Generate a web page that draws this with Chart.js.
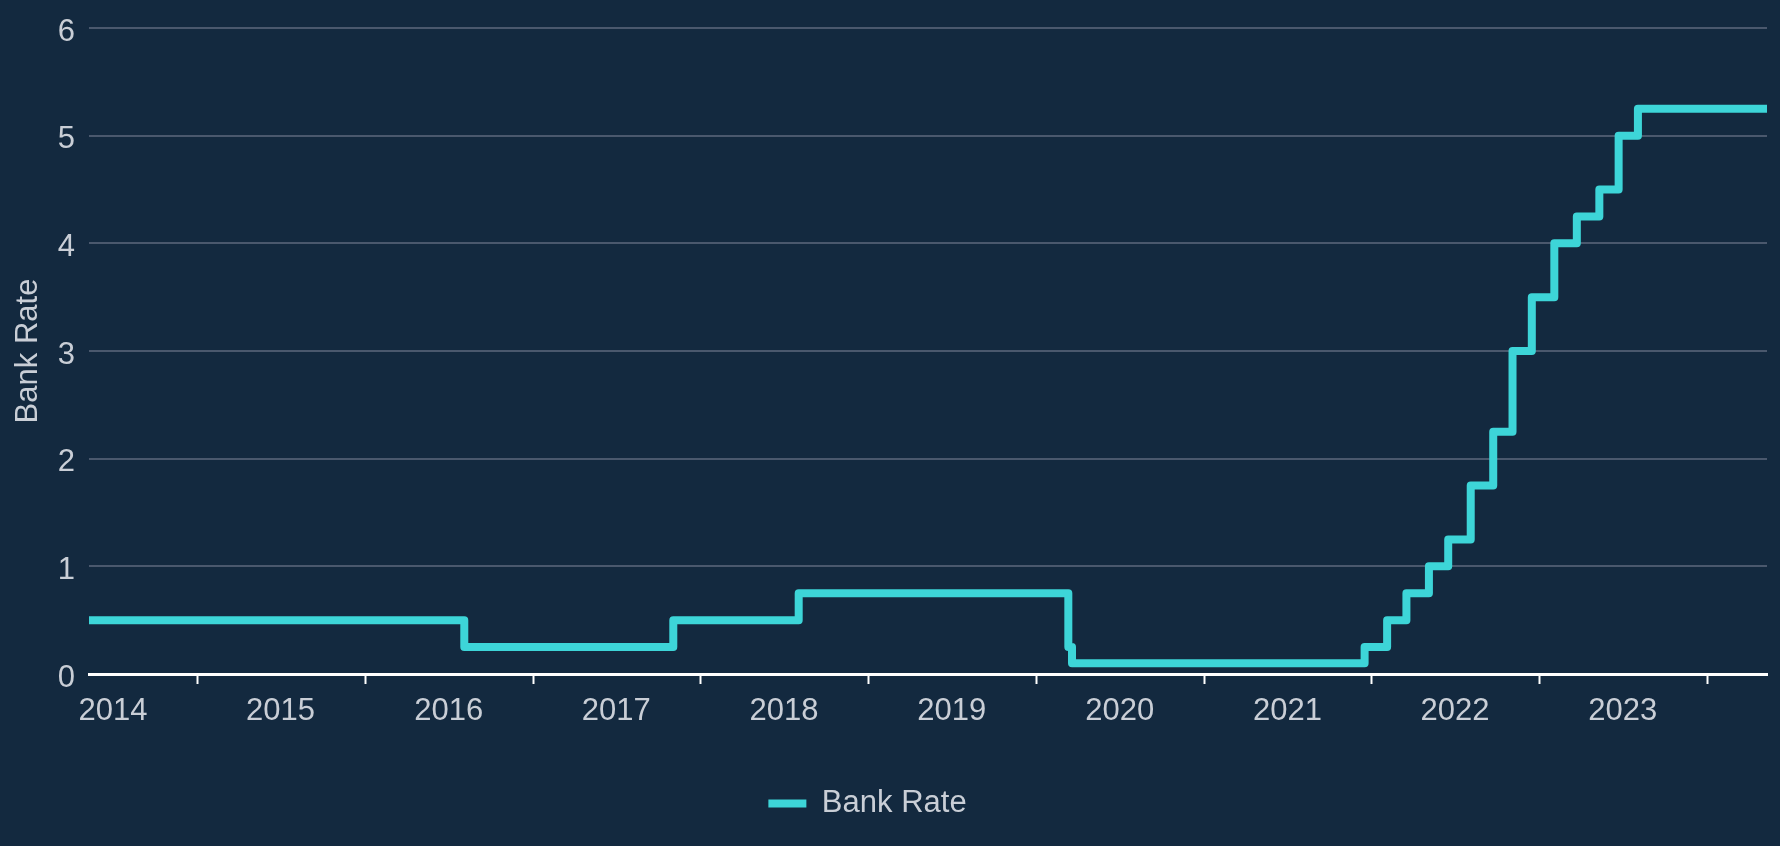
<!DOCTYPE html>
<html>
<head>
<meta charset="utf-8">
<title>Bank Rate</title>
<script src="https://cdn.jsdelivr.net/npm/chart.js@4.4.0/dist/chart.umd.min.js"></script>
<style>
    html, body { margin: 0; padding: 0; background: #13293f; }
    #wrap { width: 1780px; height: 846px; position: relative; }
</style>
</head>
<body>
<div id="wrap"><canvas id="rateChart"></canvas></div>
<script>
// Bank Rate change dates and the rate set on each (first/last rows are the window edges)
const changeDates = [
    '2014-05-10', '2016-08-04', '2017-11-02', '2018-08-02', '2020-03-11', '2020-03-19',
    '2021-12-16', '2022-02-03', '2022-03-17', '2022-05-05', '2022-06-16', '2022-08-04',
    '2022-09-22', '2022-11-03', '2022-12-15', '2023-02-02', '2023-03-23', '2023-05-11',
    '2023-06-22', '2023-08-03', '2024-05-10'
];
const bankRate = [
    0.5, 0.25, 0.5, 0.75, 0.25, 0.1,
    0.25, 0.5, 0.75, 1.0, 1.25, 1.75,
    2.25, 3.0, 3.5, 4.0, 4.25, 4.5,
    5.0, 5.25, 5.25
];
const yearLabels = ['2014', '2015', '2016', '2017', '2018', '2019', '2020', '2021', '2022', '2023', '2024'];
const yTicks = [0, 1, 2, 3, 4, 5, 6];

const lineColor = '#3dd5d8';
const textColor = '#c9ced6';
const gridColor = '#4a586d';
const fontFamily = '"Liberation Sans", Arial, Helvetica, sans-serif';

const xMin = Date.parse(changeDates[0]);
const xMax = Date.parse(changeDates[changeDates.length - 1]);

// Year boundaries get a tick mark, mid-year gets the label
const xTicks = [];
yearLabels.forEach(y => {
    const jan = Date.parse(y + '-01-01');
    const jul = Date.parse(y + '-07-01');
    if (jan >= xMin && jan <= xMax) xTicks.push({ value: jan, kind: 'mark', label: '' });
    if (jul >= xMin && jul <= xMax) xTicks.push({ value: jul, kind: 'label', label: y });
});
xTicks.sort((a, b) => a.value - b.value);

const points = changeDates.map((d, i) => ({ x: Date.parse(d), y: bankRate[i] }));

// legend in the original sits a little left of the canvas centre
const legendShift = {
    id: 'legendShift',
    afterLayout(chart) {
        chart.legend.left -= 16;
        chart.legend.right -= 16;
    }
};

new Chart(document.getElementById('rateChart'), {
    type: 'line',
    data: {
        datasets: [{
            label: 'Bank Rate',
            data: points,
            stepped: true,
            borderColor: lineColor,
            backgroundColor: lineColor,
            borderWidth: 8,
            borderJoinStyle: 'round',
            borderCapStyle: 'butt',
            pointRadius: 0,
            fill: false
        }]
    },
    plugins: [legendShift],
    options: {
        responsive: true,
        maintainAspectRatio: false,
        animation: false,
        layout: {
            padding: { top: 28, right: 13, bottom: 17, left: 0 }
        },
        scales: {
            x: {
                type: 'linear',
                min: xMin,
                max: xMax,
                afterBuildTicks: (scale) => {
                    scale.ticks = xTicks.map(t => ({ value: t.value }));
                },
                afterFit: (scale) => { scale.height = 104; },
                border: { display: true, color: '#ffffff', width: 3 },
                grid: {
                    drawOnChartArea: false,
                    drawTicks: true,
                    tickLength: 10,
                    tickWidth: 2,
                    tickColor: (ctx) => {
                        const t = xTicks[ctx.index];
                        return t && t.kind === 'mark' ? '#ffffff' : 'rgba(0,0,0,0)';
                    }
                },
                ticks: {
                    autoSkip: false,
                    maxRotation: 0,
                    padding: 9,
                    color: textColor,
                    font: { family: fontFamily, size: 31 },
                    callback: (value, index) => xTicks[index] ? xTicks[index].label : ''
                }
            },
            y: {
                min: 0,
                max: 6,
                afterBuildTicks: (scale) => {
                    scale.ticks = yTicks.map(v => ({ value: v }));
                },
                afterFit: (scale) => {
                    scale.width = 89;
                    scale.paddingTop = 0;
                    scale.paddingBottom = 0;
                },
                border: { display: false },
                grid: {
                    drawTicks: false,
                    lineWidth: 2,
                    color: (ctx) => ctx.tick && ctx.tick.value === 0 ? 'rgba(0,0,0,0)' : gridColor
                },
                ticks: {
                    padding: 14,
                    labelOffset: 4,
                    color: textColor,
                    font: { family: fontFamily, size: 31 }
                },
                title: {
                    display: true,
                    text: 'Bank Rate',
                    color: textColor,
                    font: { family: fontFamily, size: 31 },
                    padding: { top: 10, bottom: 0 }
                }
            }
        },
        plugins: {
            legend: {
                position: 'bottom',
                labels: {
                    color: textColor,
                    font: { family: fontFamily, size: 31 },
                    boxWidth: 38,
                    boxHeight: 8,
                    padding: 10,
                    generateLabels: (chart) => [{
                        text: 'Bank Rate',
                        fillStyle: lineColor,
                        strokeStyle: lineColor,
                        lineWidth: 0,
                        fontColor: textColor,
                        hidden: false,
                        datasetIndex: 0
                    }]
                }
            },
            tooltip: { enabled: false }
        }
    }
});
</script>
</body>
</html>
